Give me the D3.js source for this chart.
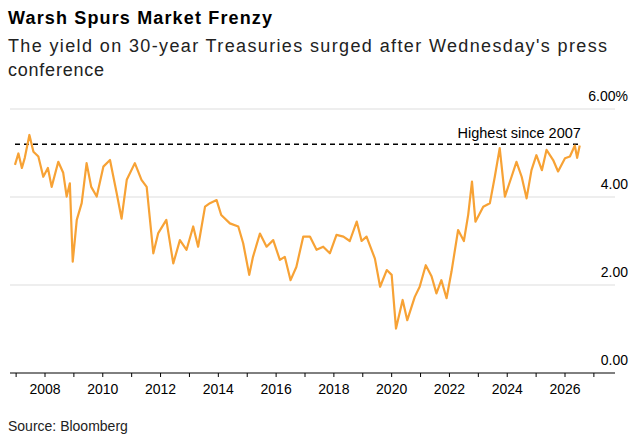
<!DOCTYPE html>
<html><head><meta charset="utf-8">
<script src="https://cdn.jsdelivr.net/npm/d3@7"></script>
<style>body{margin:0;background:#fff;font-family:"Liberation Sans",Arial,sans-serif}</style>
</head><body><svg id="c" width="637" height="441"></svg>
<script>
const years = [2006.96,2007.08,2007.2,2007.3,2007.46,2007.6,2007.77,2007.94,2008.1,2008.23,2008.46,2008.63,2008.75,2008.86,2008.96,2009.1,2009.27,2009.44,2009.6,2009.79,2010.02,2010.25,2010.48,2010.65,2010.83,2011.11,2011.34,2011.52,2011.75,2011.92,2012.2,2012.44,2012.67,2012.9,2013.13,2013.3,2013.54,2013.71,2013.94,2014.1,2014.4,2014.69,2014.86,2015.07,2015.2,2015.44,2015.67,2015.9,2016.13,2016.3,2016.5,2016.7,2016.94,2017.17,2017.4,2017.63,2017.86,2018.09,2018.33,2018.55,2018.79,2018.96,2019.13,2019.42,2019.6,2019.83,2020.0,2020.15,2020.38,2020.54,2020.8,2020.97,2021.18,2021.38,2021.55,2021.72,2021.9,2022.07,2022.3,2022.5,2022.65,2022.78,2022.9,2023.17,2023.4,2023.57,2023.74,2023.92,2024.15,2024.32,2024.5,2024.67,2024.84,2025.01,2025.2,2025.36,2025.59,2025.76,2026.0,2026.17,2026.34,2026.42,2026.51];
const yields = [4.73,4.99,4.66,4.89,5.41,5.03,4.92,4.46,4.66,4.23,4.8,4.55,4.01,4.31,2.53,3.48,3.86,4.77,4.23,4.01,4.69,4.84,4.09,3.51,4.39,4.77,4.39,4.23,2.72,3.18,3.48,2.49,3.02,2.8,3.33,2.87,3.78,3.86,3.93,3.59,3.4,3.33,2.95,2.23,2.64,3.17,2.87,3.02,2.57,2.64,2.11,2.41,3.1,3.1,2.8,2.87,2.72,3.14,3.1,3.0,3.44,3.0,3.1,2.6,1.96,2.34,2.23,1.01,1.66,1.2,1.73,1.96,2.45,2.2,1.81,2.11,1.7,2.3,3.25,3.0,3.6,4.35,3.44,3.78,3.86,4.46,5.11,4.01,4.46,4.8,4.46,3.97,4.61,4.95,4.61,5.07,4.84,4.58,4.88,4.92,5.17,4.89,5.17];
const yTicks = [0, 2, 4, 6];
const yearLabels = [2008,2010,2012,2014,2016,2018,2020,2022,2024,2026];
const highest = 5.2;

const svg = d3.select("#c");
const x = d3.scaleLinear().domain([2008, 2026]).range([45, 565]);
const y = d3.scaleLinear().domain([0, 6]).range([373, 109]);

svg.append("text").attr("x",8).attr("y",24).attr("font-size",18).attr("font-weight","bold")
  .attr("textLength",264).text("Warsh Spurs Market Frenzy");
svg.append("text").attr("x",8).attr("y",52).attr("font-size",18).attr("fill","#222")
  .attr("textLength",599).text("The yield on 30-year Treasuries surged after Wednesday's press");
svg.append("text").attr("x",8).attr("y",76).attr("font-size",18).attr("fill","#222")
  .attr("textLength",96).text("conference");

svg.selectAll(".grid").data(yTicks.filter(d=>d>0)).join("line")
  .attr("x1",10).attr("x2",615).attr("y1",d=>y(d)).attr("y2",d=>y(d))
  .attr("stroke","#ddd").attr("stroke-width",1);
svg.selectAll(".yl").data(yTicks).join("text")
  .attr("x",628).attr("y",d=>y(d)-8).attr("text-anchor","end").attr("font-size",14)
  .text(d=>d===6?"6.00%":d.toFixed(2));

const ax = svg.append("g").attr("transform","translate(0,373)");
ax.append("line").attr("x1",10).attr("x2",615).attr("stroke","#000");
ax.selectAll(".tk").data(d3.range(2007,2028)).join("line")
  .attr("x1",d=>x(d)).attr("x2",d=>x(d)).attr("y1",0).attr("y2",4).attr("stroke","#000");
ax.selectAll(".xl").data(yearLabels).join("text")
  .attr("x",d=>x(d)).attr("y",21).attr("text-anchor","middle").attr("font-size",14).text(d=>d);

svg.append("line").attr("x1",15).attr("x2",x(2026.55)).attr("y1",y(highest)).attr("y2",y(highest))
  .attr("stroke","#000").attr("stroke-width",1.5).attr("stroke-dasharray","5,4");
svg.append("text").attr("x",x(2026.55)).attr("y",y(highest)-6).attr("text-anchor","end").attr("font-size",14.5).text("Highest since 2007");

svg.append("path").datum(years.map((d,i)=>[d,yields[i]]))
  .attr("fill","none").attr("stroke","#f7a235").attr("stroke-width",2.2).attr("stroke-linejoin","round")
  .attr("d", d3.line().x(d=>x(d[0])).y(d=>y(d[1])));

svg.append("text").attr("x",8).attr("y",431).attr("font-size",14).attr("fill","#222").text("Source: Bloomberg");
</script></body></html>
